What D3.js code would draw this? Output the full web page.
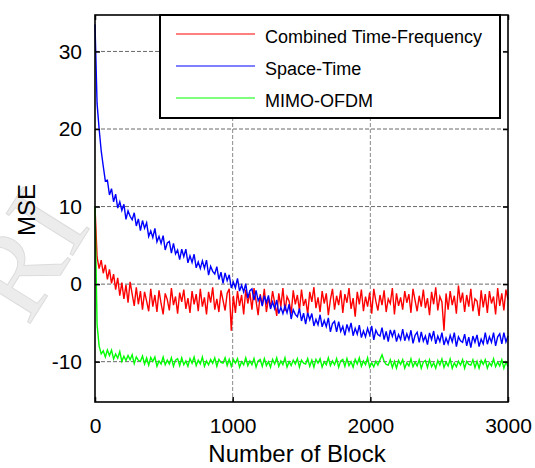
<!DOCTYPE html>
<html>
<head>
<meta charset="utf-8">
<script src="https://cdn.jsdelivr.net/npm/d3@7"></script>
<style>
  body { margin: 0; background: #fff; }
  text { font-family: "Liberation Sans", Arial, sans-serif; }
</style>
</head>
<body>
<div id="chart_id"></div>
<script>
// MSE per block, one value every 15 blocks (0 .. 3000)
var blockStep = 15;

var combinedTF = [
  10.0, 3.5, 2.0, 3.1, 1.4, 2.5, 0.6, 1.9, 0.1, 1.3,
  -0.7, 0.8, -1.5, 0.2, -1.9, -0.1, -2.4, 0.3, -1.3, -2.8,
  -0.4, -2.6, -0.9, -3.3, -1.0, -2.2, -3.5, -0.6, -2.9, -1.4,
  -3.6, -0.8, -2.5, -3.9, -1.2, -2.0, -3.4, -0.5, -2.7, -1.6,
  -3.8, -1.1, -2.3, -0.7, -3.2, -1.8, -3.7, -0.9, -2.6, -1.3,
  -3.5, -0.6, -2.9, -1.7, -3.9, -1.0, -2.4, -0.4, -3.3, -1.9,
  -3.6, -0.8, -2.1, -3.4, -1.2, -0.6, -6.0, -1.5, -3.7, -0.9,
  -2.8, -1.4, -3.9, -0.7, -2.5, -1.1, -3.3, -0.5, -2.2, -4.0,
  -1.3, -2.7, -0.6, -3.6, -1.8, -3.0, -0.9, -2.4, -4.1, -1.2,
  -2.9, -0.5, -3.5, -1.6, -2.2, -3.8, -0.8, -2.6, -1.4, -3.4,
  -0.7, -2.8, -1.9, -3.9, -1.0, -2.3, -0.4, -3.1, -1.7, -3.6,
  -0.9, -2.5, -1.2, -4.0, -2.0, -0.6, -3.3, -1.5, -2.7, -0.8,
  -3.7, -1.3, -2.4, -0.5, -3.2, -1.8, -4.2, -1.0, -2.6, -0.7,
  -3.5, -1.6, -2.9, -1.1, -3.8, -0.6, -2.2, -3.4, -1.4, -2.7,
  -0.8, -3.6, -1.9, -2.5, -0.5, -3.9, -1.2, -2.8, -1.7, -3.3,
  -0.9, -2.4, -1.3, -3.7, -0.6, -2.1, -3.5, -1.5, -2.9, -0.7,
  -3.1, -1.8, -4.0, -1.0, -2.6, -0.4, -3.4, -1.6, -2.3, -6.0,
  -1.2, -3.3, -0.9, -2.7, -1.5, -3.8, -0.2, -2.4, -1.1, -3.6,
  -1.4, -2.9, -0.6, -3.5, -1.9, -2.2, -4.1, -0.8, -3.0, -1.3,
  -3.7, -0.9, -2.5, -1.6, -3.9, -0.5, -2.8, -1.2, -3.4, -0.7,
  -2.0
];

var spaceTime = [
  33.5, 23.3, 20.0, 17.2, 15.2, 13.3, 13.4, 11.5, 12.3, 10.6,
  11.6, 9.8, 10.6, 9.5, 10.3, 8.35, 9.45, 8.75, 8.3, 9.2,
  7.5, 8.4, 6.9, 8.2, 7.2, 7.9, 6.15, 6.85, 6.0, 7.2,
  5.45, 6.15, 5.25, 6.25, 4.4, 5.3, 5.5, 4.0, 5.25, 3.9,
  4.4, 3.15, 4.5, 3.55, 4.5, 2.75, 3.65, 2.8, 3.85, 2.1,
  2.85, 2.0, 3.0, 2.05, 3.1, 1.15, 2.3, 1.65, 1.3, 2.25,
  0.6, 1.55, 0.1, 1.45, 0.45, 1.2, -0.5, 0.25, -0.5, 0.75,
  -0.9, -0.15, -1.0, 0.05, -1.8, -0.85, -0.6, -2.05, -0.8, -2.15,
  -1.6, -2.85, -1.5, -2.4, -1.45, -3.2, -2.3, -3.15, -2.05, -3.8,
  -3.0, -3.8, -2.8, -3.7, -2.6, -4.5, -3.3, -3.9, -4.2, -3.15,
  -4.75, -3.75, -5.15, -3.7, -4.6, -3.8, -5.4, -4.55, -5.25, -3.95,
  -5.5, -4.7, -5.5, -4.35, -6.15, -5.1, -4.8, -6.15, -4.85, -6.1,
  -5.45, -6.6, -5.2, -6.05, -5.0, -6.65, -5.7, -6.45, -5.3, -6.9,
  -6.05, -6.8, -5.7, -6.55, -5.4, -7.2, -5.95, -6.5, -6.7, -5.6,
  -7.15, -6.1, -7.4, -5.9, -6.75, -5.9, -7.4, -6.5, -7.15, -5.8,
  -7.3, -6.4, -7.15, -5.95, -7.65, -6.6, -6.2, -7.5, -6.15, -7.35,
  -6.7, -7.8, -6.3, -7.15, -6.05, -7.7, -6.7, -7.4, -6.25, -7.85,
  -6.95, -7.7, -6.6, -7.45, -6.25, -8.05, -6.8, -7.3, -7.5, -6.45,
  -7.95, -6.85, -8.2, -6.7, -7.5, -6.55, -8.05, -7.1, -7.7, -6.25,
  -7.75, -6.8, -7.5, -6.25, -7.95, -6.8, -6.4, -7.7, -6.25, -7.45,
  -6.7
];

var mimoOFDM = [
  10.0, -5.2, -8.0, -9.0, -8.6, -9.4, -8.5, -9.2, -8.5, -9.65,
  -9.0, -9.55, -8.7, -9.95, -9.3, -9.85, -9.2, -9.75, -9.1, -10.25,
  -9.4, -9.82, -9.95, -9.28, -10.3, -9.52, -10.44, -9.46, -9.98, -9.4,
  -10.6, -9.9, -10.3, -9.4, -10.4, -9.8, -10.3, -9.5, -10.6, -9.8,
  -9.6, -10.5, -9.5, -10.4, -9.9, -10.6, -9.6, -10.2, -9.4, -10.5,
  -9.8, -10.3, -9.4, -10.6, -9.9, -10.4, -9.7, -10.2, -9.5, -10.6,
  -9.7, -10.1, -10.2, -9.5, -10.5, -9.7, -10.6, -9.7, -10.2, -9.6,
  -10.7, -10.0, -10.4, -9.5, -10.5, -9.9, -10.4, -9.6, -10.7, -9.9,
  -9.7, -10.6, -9.6, -10.5, -10.0, -10.7, -9.7, -10.3, -9.5, -10.6,
  -9.9, -10.4, -9.5, -10.7, -10.0, -10.5, -9.8, -10.3, -9.6, -10.7,
  -9.8, -10.2, -10.3, -9.6, -10.6, -9.8, -10.7, -9.7, -10.2, -9.6,
  -10.7, -10.0, -10.4, -9.5, -10.5, -9.9, -10.4, -9.6, -10.7, -9.9,
  -9.7, -10.6, -9.6, -10.5, -10.0, -10.7, -9.7, -10.3, -9.5, -10.6,
  -9.9, -10.4, -9.5, -10.7, -10.15, -10.65, -9.95, -10.45, -9.75, -9.1,
  -9.95, -10.35, -10.45, -9.75, -10.75, -9.95, -10.85, -9.85, -10.35, -9.75,
  -10.85, -10.15, -10.55, -9.65, -10.65, -10.05, -10.55, -9.75, -10.85, -10.05,
  -9.85, -10.75, -9.75, -10.65, -10.15, -10.85, -9.85, -10.45, -9.65, -10.75,
  -10.05, -10.55, -9.65, -10.85, -10.15, -10.65, -9.95, -10.45, -9.75, -10.85,
  -9.95, -10.35, -10.45, -9.75, -10.75, -9.95, -10.85, -9.85, -10.35, -9.75,
  -10.85, -10.15, -10.55, -9.65, -10.65, -10.05, -10.55, -9.75, -10.85, -10.05,
  -10.6
];

var seriesNames = ["Combined Time-Frequency", "Space-Time", "MIMO-OFDM"];
var seriesColors = ["#ff0000", "#0000ff", "#00ff00"];
var xTicks = [0, 1000, 2000, 3000];
var yTicks = [-10, 0, 10, 20, 30];

var margin = {top: 15, right: 27, bottom: 66, left: 95},
  width = 535 - margin.left - margin.right,
  height = 468 - margin.top - margin.bottom;

var svg_root = d3.select("#chart_id")
  .append("svg")
    .attr("width", 535)
    .attr("height", 468);

// faint watermark behind the axes
svg_root.append("text")
  .attr("transform", "translate(28,327) rotate(-58)")
  .style("font-family", "'Liberation Serif', serif")
  .style("font-size", "120px")
  .style("fill", "#ececec")
  .style("stroke", "#dcdcdc")
  .style("stroke-width", 1)
  .text("RI");

var svg = svg_root.append("g")
  .attr("transform", "translate(" + margin.left + "," + margin.top + ")");

svg.append("rect")
  .attr("width", width)
  .attr("height", height)
  .style("fill", "white");

var x = d3.scaleLinear().domain([0, 3000]).range([0, width]);
var y = d3.scaleLinear().domain([-15.2, 34.7]).range([height, 0]);

// grid
svg.selectAll(".gx")
  .data(xTicks.slice(1, -1)).enter()
  .append("line")
    .attr("x1", function(d) { return x(d); })
    .attr("x2", function(d) { return x(d); })
    .attr("y1", 0).attr("y2", height)
    .style("stroke", "#8a8a8a")
    .style("stroke-dasharray", "4,2");
svg.selectAll(".gy")
  .data(yTicks).enter()
  .append("line")
    .attr("y1", function(d) { return y(d); })
    .attr("y2", function(d) { return y(d); })
    .attr("x1", 0).attr("x2", width)
    .style("stroke", "#6a6a6a")
    .style("stroke-dasharray", "4,2");

var line = d3.line()
  .x(function(d, i) { return x(i * blockStep); })
  .y(function(d) { return y(d); });

[combinedTF, spaceTime, mimoOFDM].forEach(function(s, k) {
  svg.append("path")
    .datum(s)
    .attr("d", line)
    .style("fill", "none")
    .style("stroke", seriesColors[k])
    .style("stroke-width", 1.4);
});

var plain = function(d) { return String(d); };

// axes, ticks inside on all four sides
svg.append("g")
  .attr("transform", "translate(0," + height + ")")
  .call(d3.axisBottom(x).tickValues(xTicks).tickSizeInner(-5).tickSizeOuter(0).tickPadding(16).tickFormat(plain));
svg.append("g")
  .call(d3.axisTop(x).tickValues(xTicks).tickSizeInner(-5).tickSizeOuter(0).tickFormat(""));
svg.append("g")
  .call(d3.axisLeft(y).tickValues(yTicks).tickSizeInner(-5).tickSizeOuter(0).tickPadding(13).tickFormat(plain));
svg.append("g")
  .attr("transform", "translate(" + width + ",0)")
  .call(d3.axisRight(y).tickValues(yTicks).tickSizeInner(-5).tickSizeOuter(0).tickFormat(""));

svg.selectAll(".domain").remove();
svg.selectAll(".tick line").style("stroke", "black").style("stroke-width", 1.5);
svg.selectAll(".tick text")
  .style("font-family", "'Liberation Sans', Arial, sans-serif")
  .style("font-size", "21px")
  .style("fill", "black");

svg.append("rect")
  .attr("width", width)
  .attr("height", height)
  .style("fill", "none")
  .style("stroke", "black")
  .style("stroke-width", 1.6);

// legend
var legend = svg.append("g").attr("transform", "translate(65,0)");
legend.append("rect")
  .attr("width", 340)
  .attr("height", 103)
  .style("fill", "white")
  .style("stroke", "black")
  .style("stroke-width", 2);
seriesNames.forEach(function(name, k) {
  var ly = 19 + k * 32;
  legend.append("line")
    .attr("x1", 16).attr("x2", 95)
    .attr("y1", ly).attr("y2", ly)
    .style("stroke", seriesColors[k])
    .style("stroke-width", 1.2);
  legend.append("text")
    .attr("x", 105)
    .attr("y", ly + 9)
    .style("font-size", "18px")
    .style("fill", "black")
    .text(name);
});

// axis titles
svg_root.append("text")
  .attr("x", 297)
  .attr("y", 462)
  .style("text-anchor", "middle")
  .style("font-size", "24px")
  .style("fill", "black")
  .text("Number of Block");

svg_root.append("text")
  .attr("transform", "translate(35,210) rotate(-90)")
  .style("text-anchor", "middle")
  .style("font-size", "24px")
  .style("fill", "black")
  .text("MSE");
</script>
</body>
</html>
